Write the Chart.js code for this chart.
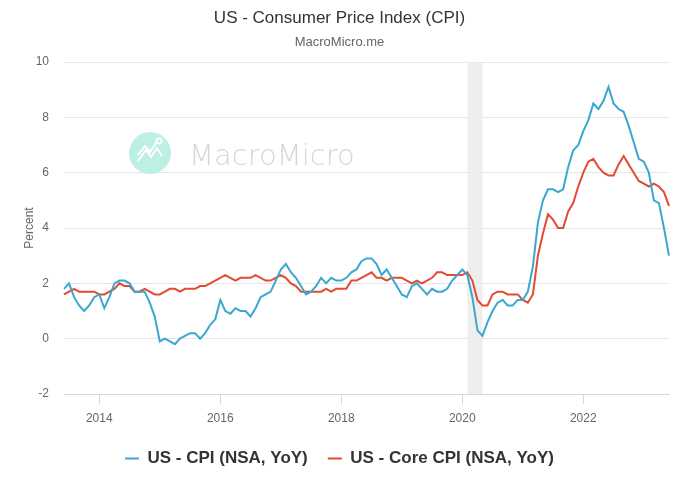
<!DOCTYPE html>
<html>
<head>
<meta charset="utf-8">
<script src="https://cdn.jsdelivr.net/npm/chart.js@4"></script>
<style>
  html, body { margin: 0; padding: 0; background: #fff; }
  #wrap { width: 680px; height: 489px; }
</style>
</head>
<body>
<div id="wrap"><canvas id="chartCPI"></canvas></div>
<script>
// monthly, Jun 2013 - Jun 2023
var months = [];
for (var y = 2013; y <= 2023; y++) {
  for (var m = 1; m <= 12; m++) {
    if ((y == 2013 && m < 6) || (y == 2023 && m > 6)) continue;
    months.push(y + '-' + (m < 10 ? '0' + m : m));
  }
}

var yearTicks = ['2014-01', '2016-01', '2018-01', '2020-01', '2022-01'];
var recession = ['2020-02', '2020-05'];

var cpi = [
  1.8, 2.0, 1.5, 1.2, 1.0, 1.2, 1.5,
  1.6, 1.1, 1.5, 2.0, 2.1, 2.1, 2.0, 1.7, 1.7, 1.7, 1.3, 0.8,
  -0.1, 0.0, -0.1, -0.2, 0.0, 0.1, 0.2, 0.2, 0.0, 0.2, 0.5, 0.7,
  1.4, 1.0, 0.9, 1.1, 1.0, 1.0, 0.8, 1.1, 1.5, 1.6, 1.7, 2.1,
  2.5, 2.7, 2.4, 2.2, 1.9, 1.6, 1.7, 1.9, 2.2, 2.0, 2.2, 2.1,
  2.1, 2.2, 2.4, 2.5, 2.8, 2.9, 2.9, 2.7, 2.3, 2.5, 2.2, 1.9,
  1.6, 1.5, 1.9, 2.0, 1.8, 1.6, 1.8, 1.7, 1.7, 1.8, 2.1, 2.3,
  2.5, 2.3, 1.5, 0.3, 0.1, 0.6, 1.0, 1.3, 1.4, 1.2, 1.2, 1.4,
  1.4, 1.7, 2.6, 4.2, 5.0, 5.4, 5.4, 5.3, 5.4, 6.2, 6.8, 7.0,
  7.5, 7.9, 8.5, 8.3, 8.6, 9.1, 8.5, 8.3, 8.2, 7.7, 7.1, 6.5,
  6.4, 6.0, 5.0, 4.9, 4.0, 3.0
];

var coreCpi = [
  1.6, 1.7, 1.8, 1.7, 1.7, 1.7, 1.7,
  1.6, 1.6, 1.7, 1.8, 2.0, 1.9, 1.9, 1.7, 1.7, 1.8, 1.7, 1.6,
  1.6, 1.7, 1.8, 1.8, 1.7, 1.8, 1.8, 1.8, 1.9, 1.9, 2.0, 2.1,
  2.2, 2.3, 2.2, 2.1, 2.2, 2.2, 2.2, 2.3, 2.2, 2.1, 2.1, 2.2,
  2.3, 2.2, 2.0, 1.9, 1.7, 1.7, 1.7, 1.7, 1.7, 1.8, 1.7, 1.8,
  1.8, 1.8, 2.1, 2.1, 2.2, 2.3, 2.4, 2.2, 2.2, 2.1, 2.2, 2.2,
  2.2, 2.1, 2.0, 2.1, 2.0, 2.1, 2.2, 2.4, 2.4, 2.3, 2.3, 2.3,
  2.3, 2.4, 2.1, 1.4, 1.2, 1.2, 1.6, 1.7, 1.7, 1.6, 1.6, 1.6,
  1.4, 1.3, 1.6, 3.0, 3.8, 4.5, 4.3, 4.0, 4.0, 4.6, 4.9, 5.5,
  6.0, 6.4, 6.5, 6.2, 6.0, 5.9, 5.9, 6.3, 6.6, 6.3, 6.0, 5.7,
  5.6, 5.5, 5.6, 5.5, 5.3, 4.8
];

var font = "'Liberation Sans', Arial, Helvetica, sans-serif";

// grey recession band + watermark, drawn under the lines
var backdrop = {
  id: 'backdrop',
  beforeDatasetsDraw: function (chart) {
    var c = chart.ctx, x = chart.scales.x, area = chart.chartArea;
    var x0 = x.getPixelForValue(months.indexOf(recession[0]));
    var x1 = x.getPixelForValue(months.indexOf(recession[1]));
    c.save();
    c.fillStyle = 'rgba(235,235,235,0.85)';
    c.fillRect(x0, area.top, x1 - x0, area.bottom - area.top);

    // watermark
    c.fillStyle = '#bdf0e4';
    c.beginPath();
    c.arc(150, 153, 21, 0, Math.PI * 2);
    c.fill();
    c.strokeStyle = '#ffffff';
    c.lineWidth = 2;
    c.beginPath();
    c.moveTo(138, 161); c.lineTo(146, 150); c.lineTo(151, 157); c.lineTo(157, 148); c.lineTo(162, 156);
    c.moveTo(138, 155); c.lineTo(145, 146); c.lineTo(150, 152); c.lineTo(156, 143);
    c.stroke();
    c.beginPath();
    c.arc(159, 141, 2.5, 0, Math.PI * 2);
    c.stroke();
    c.fillStyle = '#d6d6d6';
    c.font = "200 29px 'DejaVu Sans'";
    c.textBaseline = 'alphabetic';
    c.fillText('MacroMicro', 189, 165);
    c.restore();
  }
};

var ctx = document.getElementById('chartCPI').getContext('2d');

var chartCPI = new Chart(ctx, {
  type: 'line',
  data: {
    labels: months,
    datasets: [{
      label: 'US - CPI (NSA, YoY)',
      data: cpi,
      borderColor: '#3aa7d1',
      backgroundColor: '#3aa7d1',
      borderWidth: 2,
      pointRadius: 0,
      tension: 0
    }, {
      label: 'US - Core CPI (NSA, YoY)',
      data: coreCpi,
      borderColor: '#e24a31',
      backgroundColor: '#e24a31',
      borderWidth: 2,
      pointRadius: 0,
      tension: 0
    }]
  },
  options: {
    responsive: true,
    maintainAspectRatio: false,
    animation: false,
    layout: { padding: { left: 10, right: 11, top: 0, bottom: 12 } },
    plugins: {
      title: {
        display: true,
        text: 'US - Consumer Price Index (CPI)',
        color: '#333333',
        font: { family: font, size: 17, weight: 'normal' },
        padding: { top: 8, bottom: 6 }
      },
      subtitle: {
        display: true,
        text: 'MacroMicro.me',
        color: '#666666',
        font: { family: font, size: 13 },
        padding: { top: 0, bottom: 12 }
      },
      legend: {
        position: 'bottom',
        labels: {
          usePointStyle: true,
          pointStyle: 'line',
          pointStyleWidth: 14,
          color: '#333333',
          font: { family: font, size: 17, weight: 'bold' },
          padding: 20
        }
      },
      tooltip: { enabled: false }
    },
    scales: {
      x: {
        type: 'category',
        offset: false,
        afterBuildTicks: function (scale) {
          scale.ticks = scale.ticks.filter(function (t) {
            return yearTicks.indexOf(months[t.value]) >= 0;
          });
        },
        afterFit: function (scale) { scale.height = 36; },
        ticks: {
          autoSkip: false,
          maxRotation: 0,
          padding: 7,
          color: '#666666',
          font: { family: font, size: 12 },
          callback: function (val) { return months[val].slice(0, 4); }
        },
        grid: {
          drawOnChartArea: false,
          tickLength: 10,
          color: '#d8d8d8'
        },
        border: { display: true, color: '#d8d8d8' }
      },
      y: {
        min: -2,
        max: 10,
        afterFit: function (scale) { scale.width = 54; },
        ticks: {
          stepSize: 2,
          padding: 15,
          color: '#666666',
          font: { family: font, size: 12 }
        },
        grid: { color: '#e6e6e6', drawTicks: false },
        border: { display: false },
        title: {
          display: true,
          text: 'Percent',
          color: '#666666',
          font: { family: font, size: 12 },
          padding: { top: 12, bottom: 0 }
        }
      }
    }
  },
  plugins: [backdrop]
});
</script>
</body>
</html>
